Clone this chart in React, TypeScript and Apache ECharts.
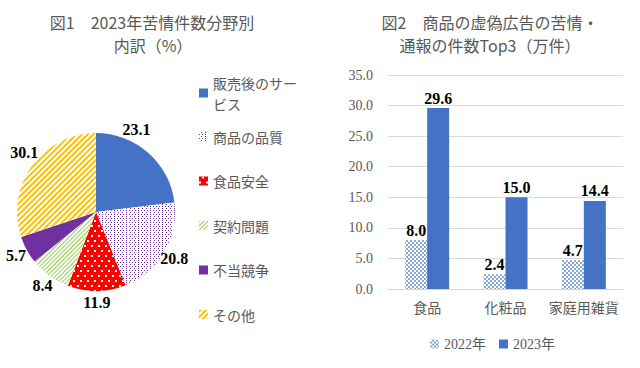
import React, { useEffect, useRef } from "react";
import * as echarts from "echarts";

const pieNames = ["販売後のサービス", "商品の品質", "食品安全", "契約問題", "不当競争", "その他"];
const pieValues = [23.1, 20.8, 11.9, 8.4, 5.7, 30.1];

const barCategories = ["食品", "化粧品", "家庭用雑貨"];
const values2022 = [8.0, 2.4, 4.7];
const values2023 = [29.6, 15.0, 14.4];
const yTicks = [0, 5, 10, 15, 20, 25, 30, 35];

const title1Lines = ["図1　2023年苦情件数分野別", "内訳（%）"];
const title2Lines = ["図2　商品の虚偽広告の苦情・", "通報の件数Top3（万件）"];

const GRAY = "#595959";
const SERIF = "'Liberation Serif', 'Noto Sans CJK JP', serif";
const SANS = "'Noto Sans CJK JP', 'Noto Sans', sans-serif";

const pieStyles: any[] = [
  { color: "#4472C4" },
  {
    color: "#ffffff",
    decal: {
      symbol: "rect",
      symbolSize: 1,
      color: "#7030A0",
      dashArrayX: [[1, 2], [0, 1.5, 1, 0.5]],
      dashArrayY: [1, 0.6],
    },
  },
  {
    color: "#FF0000",
    decal: {
      symbol: "rect",
      symbolSize: 1,
      color: "#ffffff",
      dashArrayX: [[1.2, 4.8], [0, 3, 1.2, 1.8]],
      dashArrayY: [1.2, 2.8],
    },
  },
  {
    color: "#ffffff",
    decal: {
      symbol: "rect",
      symbolSize: 1,
      color: "#92D050",
      dashArrayX: [1, 0],
      dashArrayY: [1, 2],
      rotation: -Math.PI / 4,
    },
  },
  { color: "#7030A0" },
  {
    color: "#ffffff",
    decal: {
      symbol: "rect",
      symbolSize: 1,
      color: "#FFC000",
      dashArrayX: [1, 0],
      dashArrayY: [1.3, 1.5],
      rotation: -Math.PI / 4,
    },
  },
];

const labelOffsets: any[] = [[-20, -14], [0, 0], [0, 0], [0, 0], [0, 0], [2, -6]];

export default function App() {
  const ref = useRef<HTMLDivElement>(null);
  useEffect(() => {
    if (!ref.current) return;
    const chart = echarts.init(ref.current, undefined, { renderer: "svg" });
    const pieData = pieNames.map((n, i) => ({ name: n, value: pieValues[i], itemStyle: pieStyles[i] }));
    const pieLabelData = pieNames.map((n, i) => ({
      name: n,
      value: pieValues[i],
      label: { offset: labelOffsets[i] },
    }));
    const legendText = {
      fontFamily: SANS,
      fontSize: 14,
      color: GRAY,
      lineHeight: 21,
    };
    const titleStyle = { fontFamily: SANS, fontSize: 16, fontWeight: "normal", color: GRAY };
    const mkTitle = (text: string, left: number, top: number) => ({
      text,
      left,
      top,
      textAlign: "center",
      padding: 0,
      textStyle: titleStyle,
    });
    const barLabel = {
      show: true,
      position: "top",
      distance: 2,
      color: "#000000",
      fontFamily: SERIF,
      fontWeight: "bold",
      fontSize: 16,
      formatter: (p: any) => p.value.toFixed(1),
    };
    chart.setOption({
      animation: false,
      backgroundColor: "#ffffff",
      title: [
        mkTitle(title1Lines[0], 152, 14),
        mkTitle(title1Lines[1], 153, 37),
        mkTitle(title2Lines[0], 490, 14),
        mkTitle(title2Lines[1], 490, 37),
      ],
      legend: [
        {
          data: [pieNames[0]],
          orient: "vertical",
          left: 199,
          top: 61.5,
          padding: 0,
          icon: "rect",
          itemWidth: 9,
          itemHeight: 9,
          selectedMode: false,
          textStyle: { ...legendText, width: 90, overflow: "break", padding: [21, 0, 0, 0] },
        },
        {
          data: pieNames.slice(1),
          orient: "vertical",
          left: 199,
          top: 126,
          padding: 0,
          icon: "rect",
          itemWidth: 9,
          itemHeight: 9,
          itemGap: 23.5,
          selectedMode: false,
          textStyle: legendText,
        },
        {
          data: ["2022年", "2023年"],
          orient: "horizontal",
          left: 430,
          top: 337,
          padding: 0,
          icon: "rect",
          itemWidth: 9,
          itemHeight: 9,
          itemGap: 13,
          selectedMode: false,
          textStyle: { fontFamily: SERIF, fontSize: 14, color: GRAY },
        },
      ],
      grid: { left: 388, right: 17, top: 75, bottom: 79 },
      xAxis: {
        type: "category",
        data: barCategories,
        axisTick: { show: false },
        axisLine: { lineStyle: { color: "#d9d9d9" } },
        axisLabel: { color: GRAY, fontFamily: SERIF, fontSize: 14, margin: 12, interval: 0 },
      },
      yAxis: {
        type: "value",
        min: yTicks[0],
        max: yTicks[yTicks.length - 1],
        interval: 5,
        axisLine: { show: false },
        axisTick: { show: false },
        splitLine: { lineStyle: { color: "#d9d9d9" } },
        axisLabel: {
          color: GRAY,
          fontFamily: SERIF,
          fontSize: 14,
          margin: 15,
          formatter: (v: number) => v.toFixed(1),
        },
      },
      series: [
        {
          type: "pie",
          center: [96, 212],
          radius: 79,
          startAngle: 90,
          clockwise: true,
          silent: true,
          label: { show: false },
          labelLine: { show: false },
          data: pieData,
        },
        {
          type: "pie",
          center: [96, 212],
          radius: [79, 97],
          startAngle: 90,
          clockwise: true,
          silent: true,
          itemStyle: { color: "rgba(0,0,0,0)" },
          label: {
            show: true,
            position: "inside",
            rotate: 0,
            color: "#000000",
            fontFamily: SERIF,
            fontWeight: "bold",
            fontSize: 16,
            formatter: (p: any) => p.value.toFixed(1),
          },
          labelLine: { show: false },
          data: pieLabelData,
        },
        {
          type: "bar",
          name: "2022年",
          data: values2022,
          barWidth: 22,
          barGap: "0%",
          itemStyle: {
            color: "#ffffff",
            decal: {
              symbol: "rect",
              symbolSize: 0.85,
              color: "#4472C4",
              dashArrayX: [[1.5, 1.5], [0, 1.5, 1.5, 0]],
              dashArrayY: [1.5, 0],
            },
          },
          label: barLabel,
        },
        {
          type: "bar",
          name: "2023年",
          data: values2023,
          barWidth: 22,
          barGap: "0%",
          itemStyle: { color: "#4472C4" },
          label: barLabel,
        },
      ],
    });
    return () => chart.dispose();
  }, []);
  return <div ref={ref} style={{ position: "fixed", left: 0, top: 0, width: 640, height: 368 }} />;
}
